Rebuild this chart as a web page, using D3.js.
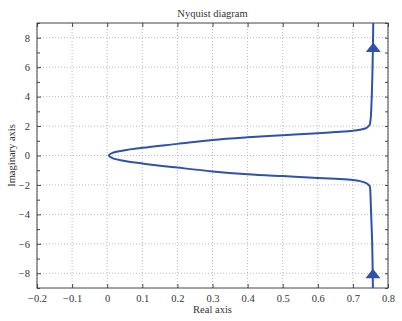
<!DOCTYPE html>
<html>
<head>
<meta charset="utf-8">
<script src="https://cdn.jsdelivr.net/npm/d3@7"></script>
<style>
  body { margin: 0; background: #fff; }
  text { font-family: "Liberation Serif", "DejaVu Serif", serif; fill: #333; }
</style>
</head>
<body>
<script>
// Nyquist curve (real, imaginary), bottom to top
var realPart = [0.757, 0.755, 0.752, 0.750, 0.749, 0.748, 0.745, 0.738, 0.72, 0.70, 0.65, 0.60, 0.50, 0.40, 0.30, 0.20, 0.10, 0.046, 0.015, 0.005,
                0.015, 0.046, 0.10, 0.20, 0.30, 0.40, 0.50, 0.60, 0.65, 0.70, 0.72, 0.738, 0.745, 0.748, 0.749, 0.751, 0.755, 0.758];
var imagPart = [-9, -6, -4, -2.6, -2.2, -2.1, -2.0, -1.88, -1.74, -1.66, -1.58, -1.52, -1.40, -1.27, -1.08, -0.82, -0.54, -0.35, -0.18, 0,
                0.18, 0.34, 0.52, 0.79, 1.06, 1.24, 1.38, 1.51, 1.59, 1.68, 1.75, 1.86, 2.0, 2.1, 2.2, 2.6, 5, 9];
// arrow heads (real, imaginary)
var arrowReal = [0.757, 0.758];
var arrowImag = [-8.07, 7.3];

var xTicks = [-0.2, -0.1, 0, 0.1, 0.2, 0.3, 0.4, 0.5, 0.6, 0.7, 0.8];
var yTicks = [-8, -6, -4, -2, 0, 2, 4, 6, 8];
var yMinor = [-9, -7, -5, -3, -1, 1, 3, 5, 7, 9];

var W = 402, H = 321;
var m = {left: 37, right: 14, top: 23, bottom: 33};
var iw = W - m.left - m.right, ih = H - m.top - m.bottom;

var svg = d3.select('body').append('svg')
  .attr('width', W).attr('height', H);

var x = d3.scaleLinear().domain([-0.2, 0.8]).range([0, iw]);
var y = d3.scaleLinear().domain([-9, 9]).range([ih, 0]);

var g = svg.append('g').attr('transform', 'translate(' + m.left + ',' + m.top + ')');

// grid
g.append('g').selectAll('line').data(xTicks).enter().append('line')
  .attr('x1', function(d) { return x(d); }).attr('x2', function(d) { return x(d); })
  .attr('y1', 0).attr('y2', ih)
  .attr('stroke', '#a8a8a8').attr('stroke-width', 0.8).attr('stroke-dasharray', '1,2');
g.append('g').selectAll('line').data(yTicks).enter().append('line')
  .attr('y1', function(d) { return y(d); }).attr('y2', function(d) { return y(d); })
  .attr('x1', 0).attr('x2', iw)
  .attr('stroke', '#a8a8a8').attr('stroke-width', 0.8).attr('stroke-dasharray', '1,2');

var fmt = function(d) { return d3.format('')(d).replace('-', '\u2212'); };

// axes, ticks pointing inward
var xb = g.append('g').attr('transform', 'translate(0,' + ih + ')')
  .call(d3.axisBottom(x).tickValues(xTicks).tickSizeInner(-4).tickSizeOuter(0).tickPadding(7).tickFormat(fmt));
var xt = g.append('g')
  .call(d3.axisTop(x).tickValues(xTicks).tickSizeInner(-4).tickSizeOuter(0).tickFormat(''));
var yl = g.append('g')
  .call(d3.axisLeft(y).tickValues(yTicks).tickSizeInner(-4).tickSizeOuter(0).tickPadding(7).tickFormat(fmt));
var ylm = g.append('g')
  .call(d3.axisLeft(y).tickValues(yMinor).tickSizeInner(-3).tickSizeOuter(0).tickFormat(''));
var yr = g.append('g').attr('transform', 'translate(' + iw + ',0)')
  .call(d3.axisRight(y).tickValues(yTicks.concat(yMinor)).tickSizeInner(-3).tickSizeOuter(0).tickFormat(''));

[xb, xt, yl, ylm, yr].forEach(function(a) {
  a.select('.domain').remove();
  a.selectAll('line').attr('stroke', '#444');
  a.selectAll('text').attr('font-family', '"Liberation Serif", serif').attr('font-size', 10.5).attr('fill', '#333');
});

g.append('rect').attr('width', iw).attr('height', ih)
  .attr('fill', 'none').attr('stroke', '#444').attr('stroke-width', 1);

// curve
var pts = realPart.map(function(r, i) { return [r, imagPart[i]]; });
svg.append('clipPath').attr('id', 'c').append('rect').attr('width', iw).attr('height', ih);
g.append('path').datum(pts)
  .attr('clip-path', 'url(#c)')
  .attr('d', d3.line().x(function(d) { return x(d[0]); }).y(function(d) { return y(d[1]); }).curve(d3.curveCatmullRom))
  .attr('fill', 'none').attr('stroke', '#2f52ad').attr('stroke-width', 2);

// arrows pointing up
g.selectAll('.arrow').data(arrowReal).enter().append('path')
  .attr('class', 'arrow')
  .attr('transform', function(d, i) { return 'translate(' + x(d) + ',' + y(arrowImag[i]) + ')'; })
  .attr('d', 'M0,-5.5L7.5,4L-7.5,4Z')
  .attr('fill', '#2f52ad');

// labels
svg.append('text').attr('x', m.left + iw / 2).attr('y', 17)
  .attr('text-anchor', 'middle').attr('font-size', 10.5).text('Nyquist diagram');
svg.append('text').attr('x', m.left + iw / 2).attr('y', 313)
  .attr('text-anchor', 'middle').attr('font-size', 10.5).text('Real axis');
svg.append('text').attr('transform', 'translate(15,' + (m.top + ih / 2) + ') rotate(-90)')
  .attr('text-anchor', 'middle').attr('font-size', 10.5).text('Imaginary axis');
</script>
</body>
</html>
